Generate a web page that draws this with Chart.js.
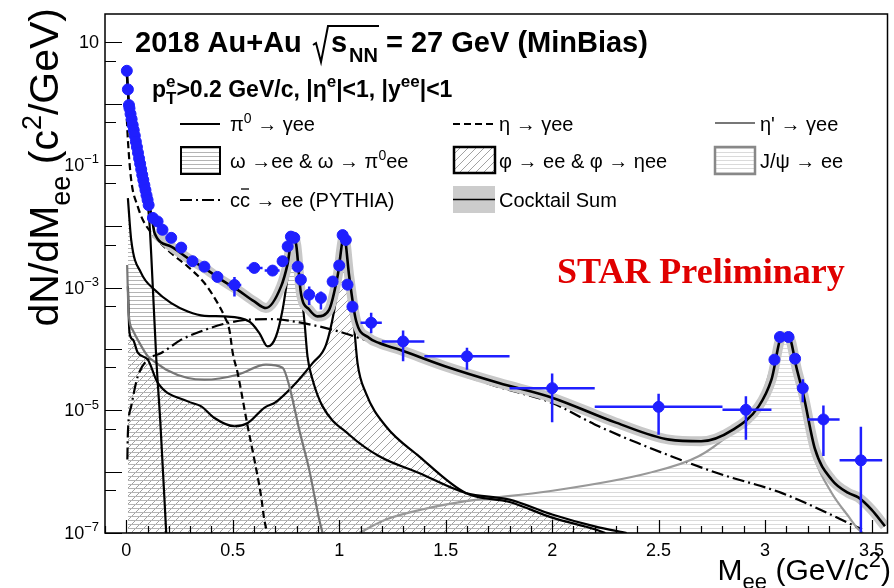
<!DOCTYPE html>
<html>
<head>
<meta charset="utf-8">
<script src="https://cdn.jsdelivr.net/npm/chart.js@4.4.1/dist/chart.umd.min.js"></script>
<style>
  html, body { margin: 0; padding: 0; background: #fff; }
</style>
</head>
<body>
<canvas id="c" width="894" height="588"></canvas>
<script>
// STAR data points (M_ee in GeV/c2, dN/dM_ee)
const dataMass = [0.0025, 0.0075, 0.0125, 0.015, 0.02, 0.025, 0.03, 0.035, 0.04, 0.045, 0.05, 0.055,
  0.06, 0.065, 0.07, 0.075, 0.08, 0.085, 0.09, 0.095, 0.10, 0.105,
  0.125, 0.147, 0.170, 0.211, 0.258, 0.311, 0.367, 0.428, 0.508, 0.601, 0.687, 0.734, 0.758,
  0.773, 0.789, 0.805, 0.82, 0.859, 0.914, 0.969, 1.0, 1.016, 1.031, 1.039, 1.062, 1.15, 1.30,
  1.60, 2.0, 2.5, 2.91, 3.044, 3.07, 3.11, 3.141, 3.177, 3.274, 3.45];
const dataYield = [3.44, 1.71, 0.95, 0.84, 0.68, 0.56, 0.45, 0.37, 0.30, 0.24, 0.196, 0.158,
  0.128, 0.105, 0.085, 0.069, 0.057, 0.047, 0.039, 0.032, 0.027, 0.0222,
  0.0137, 0.0120, 0.0088, 0.0065, 0.0045, 0.0027, 0.0022, 0.0015, 0.00111, 0.0021, 0.0019, 0.0027, 0.0047,
  0.0068, 0.0065, 0.0022, 0.00135, 0.00077, 0.00068, 0.00126, 0.0023, 0.0072, 0.0060, 0.00112, 0.00049, 2.68e-4, 1.33e-4,
  7.6e-5, 2.3e-5, 1.14e-5, 1.02e-5, 6.7e-5, 1.57e-4, 1.57e-4, 6.95e-5, 2.3e-5, 7.1e-6, 1.53e-6];

// error bars: mass of the data point, mass range, yield range (null = none drawn)
const barAtMass    = [0.428, 0.508, 0.601, 0.687, 0.859, 0.914, 1.15, 1.30, 1.60, 2.0, 2.5, 2.91, 3.177, 3.274, 3.45];
const barMassLo    = [0.41, 0.475, 0.565, 0.65, 0.84, 0.895, 1.1, 1.2, 1.4, 1.8, 2.2, 2.8, null, 3.2, 3.35];
const barMassHi    = [0.445, 0.54, 0.64, 0.72, 0.88, 0.935, 1.2, 1.4, 1.8, 2.2, 2.8, 3.03, null, 3.35, 3.55];
const barYieldLo   = [null, 7.2e-4, null, null, 5.2e-4, 4.4e-4, 1.8e-4, 6.3e-5, 4.6e-5, 6.4e-6, 4.0e-6, 3.3e-6, 1.35e-5, 1.8e-6, 1e-9];
const barYieldHi   = [null, 1.5e-3, null, null, 1.05e-3, 8.7e-4, 3.9e-4, 2.0e-4, 1.05e-4, 4.0e-5, 1.87e-5, 1.7e-5, 3.2e-5, 1.2e-5, 5.4e-6];

// cocktail components
const pi0Mass = [0.0025, 0.0075, 0.0125, 0.025, 0.05, 0.075, 0.1, 0.109, 0.125, 0.141, 0.16, 0.1875];
const pi0Yield = [3.16, 1.58, 0.89, 0.52, 0.18, 0.063, 0.0234, 0.0112, 9.5e-4, 6.8e-5, 6.3e-6, 1e-7];

const etaMass = [0.0025, 0.0075, 0.023, 0.054, 0.078, 0.133, 0.211, 0.289, 0.367, 0.429, 0.461, 0.484,
  0.5, 0.523, 0.57, 0.601, 0.633, 0.648, 0.662];
const etaYield = [0.56, 0.256, 0.0571, 0.021, 0.0127, 0.0068, 0.00365, 0.00221, 0.00119, 5.6e-4, 3.4e-4, 2.06e-4,
  8.6e-5, 4.05e-5, 5.5e-6, 1.6e-6, 4e-7, 1.66e-7, 1e-7];

const etapMass = [0.004, 0.011, 0.03, 0.054, 0.101, 0.133, 0.1875, 0.289, 0.367, 0.523, 0.656, 0.734,
  0.766, 0.812, 0.859, 0.906, 0.922];
const etapYield = [2.34e-3, 3.85e-4, 2.04e-4, 1.41e-4, 7.6e-5, 6.2e-5, 4.6e-5, 3.37e-5, 3.16e-5, 3.81e-5, 5.55e-5, 4.95e-5,
  2.46e-5, 4.85e-6, 1.08e-6, 1.66e-7, 1e-7];

const omegaMass = [0.0075, 0.023, 0.07, 0.133, 0.211, 0.289, 0.367, 0.461, 0.578, 0.625, 0.664, 0.703,
  0.734, 0.758, 0.781, 0.797, 0.812, 0.836, 0.851, 0.875, 0.922, 1.047, 1.188, 1.375, 1.594, 1.8, 2.0, 2.2, 2.35];
const omegaYield = [0.0288, 0.00603, 0.00173, 9.25e-4, 5.6e-4, 4.1e-4, 3.48e-4, 3.4e-4, 2.81e-4, 1.82e-4, 1.1e-4, 1.6e-4,
  4.37e-4, 0.00152, 0.0060, 0.00532, 0.00152, 3.0e-4, 7.6e-5, 3.16e-5, 1.16e-5, 4.0e-6, 1.78e-6, 9.5e-7, 4.5e-7, 3.5e-7, 2.0e-7, 1.28e-7, 1e-7];

const phiMass = [0.0075, 0.015, 0.031, 0.054, 0.101, 0.148, 0.289, 0.352, 0.414, 0.508, 0.570, 0.648, 0.70,
  0.781, 0.875, 0.938, 0.977, 1.0, 1.023, 1.039, 1.055, 1.070, 1.086, 1.125, 1.219, 1.375, 1.594, 1.8, 2.0, 2.2, 2.25];
const phiYield = [1.05e-3, 1.84e-4, 1.42e-4, 8.7e-5, 6.7e-5, 2.8e-5, 1.4e-5, 1.16e-5, 7.5e-6, 5.5e-6, 6.2e-6, 1.1e-5, 1.35e-5,
  2.45e-5, 5.9e-5, 1.17e-4, 4.37e-4, 0.00152, 0.0063, 0.00469, 8.2e-4, 2.33e-4, 5.9e-5, 1.92e-5, 5.5e-6, 1.78e-6, 4.5e-7, 3.2e-7, 1.78e-7, 1.15e-7, 1e-7];

const jpsiMass = [1.094, 1.219, 1.389, 1.594, 1.985, 2.453, 2.688, 2.843, 2.969, 3.016, 3.055, 3.078, 3.10,
  3.125, 3.172, 3.203, 3.235, 3.313, 3.391, 3.438, 3.46];
const jpsiYield = [1e-7, 1.66e-7, 2.42e-7, 3.31e-7, 4.79e-7, 9.5e-7, 1.78e-6, 4.34e-6, 1.16e-5, 3.58e-5, 9.8e-5, 1.5e-4, 1.5e-4,
  1.1e-4, 1.49e-5, 4.27e-6, 1.57e-6, 4.5e-7, 1.88e-7, 1.15e-7, 1e-7];

const ccMass = [0.005, 0.0075, 0.023, 0.054, 0.101, 0.164, 0.258, 0.289, 0.461, 0.570, 0.68, 0.812, 0.969,
  1.094, 1.3, 1.5, 1.75, 2.0, 2.2, 2.4, 2.775, 3.08, 3.455];
const ccYield = [1.58e-6, 4.29e-6, 1.16e-5, 3.58e-5, 6.7e-5, 8.6e-5, 1.42e-4, 1.6e-4, 2.58e-4, 3.0e-4, 3.08e-4, 2.71e-4, 2.06e-4,
  1.51e-4, 8.7e-5, 4.68e-5, 2.4e-5, 1.32e-5, 5.9e-6, 2.95e-6, 9.5e-7, 4.47e-7, 1.15e-7];

const sumMass = [0.0025, 0.0075, 0.0125, 0.025, 0.05, 0.075, 0.1, 0.12, 0.133, 0.211, 0.289, 0.367, 0.445,
  0.523, 0.601, 0.656, 0.727, 0.757, 0.781, 0.798, 0.82, 0.859, 0.898, 0.953, 0.992, 1.023, 1.047, 1.078,
  1.141, 1.188, 1.281, 1.5, 1.75, 2.0, 2.3, 2.55, 2.7, 2.85, 2.97, 3.03, 3.08, 3.11, 3.15, 3.18, 3.235,
  3.313, 3.391, 3.438, 3.5, 3.563];
const sumYield = [3.39, 1.70, 0.955, 0.55, 0.204, 0.0741, 0.0282, 0.0141, 0.00774, 0.00468, 0.00303, 0.00209, 0.00135,
  9.2e-4, 5.96e-4, 4.66e-4, 0.00105, 0.0024, 0.0069, 0.0050, 8.2e-4, 4.4e-4, 3.4e-4, 4.4e-4, 0.00152, 0.0069, 0.00152, 3.0e-4,
  1.51e-4, 1.25e-4, 9.8e-5, 5.2e-5, 2.8e-5, 1.61e-5, 6.3e-6, 3.33e-6, 3.13e-6, 4.85e-6, 1.16e-5, 3.16e-5, 1.6e-4, 1.6e-4, 4.57e-5, 1.8e-5, 2.3e-6,
  7.4e-7, 4.5e-7, 3.8e-7, 2.4e-7, 1.29e-7];

// axis labels
const xTickValues = [0, 0.5, 1, 1.5, 2, 2.5, 3, 3.5];
const xTickLabels = ['0', '0.5', '1', '1.5', '2', '2.5', '3', '3.5'];
const yLabelExps = [1, -1, -3, -5, -7];

const SANS = '"Liberation Sans", Arial, Helvetica, sans-serif';
const SERIF = '"Liberation Serif", "Times New Roman", serif';
const BLUE = '#1f1fff';

const canvas = document.getElementById('c');
const mainCtx = canvas.getContext('2d');

function makeHatch(type, color) {
  const c = document.createElement('canvas');
  const g = c.getContext('2d');
  if (type === 'h') {
    c.width = 8; c.height = 4;
    g.fillStyle = color;
    g.fillRect(0, 0, 8, 1);
  } else {
    c.width = 8; c.height = 8;
    g.strokeStyle = color;
    g.lineWidth = 1;
    g.beginPath();
    g.moveTo(-1, 9); g.lineTo(9, -1);
    g.moveTo(-1, 1); g.lineTo(1, -1);
    g.moveTo(7, 9); g.lineTo(9, 7);
    g.stroke();
  }
  return mainCtx.createPattern(c, 'repeat');
}

const hatchOmega = makeHatch('h', '#b4b4b4');
const hatchPhi = makeHatch('d', '#a2a2a2');
const hatchJpsi = makeHatch('h', '#dadada');

const pts = (m, v) => m.map((x, i) => ({ x: x, y: v[i] }));

// text with sub/superscripts: mode 0 normal, 1 sup, -1 sub, 2 stacked [sub, sup]
function rich(ctx, x, y, parts, size, weight, draw = true, ratio = 0.72) {
  let cx = x;
  const small = Math.round(size * ratio);
  for (const [t, m] of parts) {
    if (m === 2) {
      ctx.font = weight + ' ' + small + 'px ' + SANS;
      if (draw) {
        ctx.fillText(t[0], cx, y + size * 0.3);
        ctx.fillText(t[1], cx, y - size * 0.42);
      }
      cx += Math.max(ctx.measureText(t[0]).width, ctx.measureText(t[1]).width);
      continue;
    }
    const s = m ? small : size;
    ctx.font = weight + ' ' + s + 'px ' + SANS;
    const dy = m === 1 ? -size * 0.42 : m === -1 ? size * 0.3 : 0;
    if (draw) ctx.fillText(t, cx, y + dy);
    cx += ctx.measureText(t).width;
  }
  return cx - x;
}

const errorBars = {
  id: 'errorBars',
  beforeDatasetDraw(chart, args) {
    if (args.index !== 0) return;
    const { ctx, chartArea: a, scales: { x, y } } = chart;
    ctx.save();
    ctx.beginPath();
    ctx.rect(a.left, a.top, a.width, a.height);
    ctx.clip();
    ctx.strokeStyle = BLUE;
    ctx.lineWidth = 2.5;
    barAtMass.forEach((m, i) => {
      const k = dataMass.indexOf(m);
      const px = x.getPixelForValue(m);
      const py = y.getPixelForValue(dataYield[k]);
      ctx.beginPath();
      if (barMassLo[i] !== null) {
        ctx.moveTo(x.getPixelForValue(barMassLo[i]), py);
        ctx.lineTo(x.getPixelForValue(barMassHi[i]), py);
      }
      if (barYieldLo[i] !== null) {
        ctx.moveTo(px, y.getPixelForValue(barYieldLo[i]));
        ctx.lineTo(px, y.getPixelForValue(barYieldHi[i]));
      }
      ctx.stroke();
    });
    ctx.restore();
  }
};

function legendLine(ctx, x1, x2, y, color, width, dash) {
  ctx.save();
  ctx.strokeStyle = color;
  ctx.lineWidth = width;
  ctx.setLineDash(dash);
  ctx.beginPath();
  ctx.moveTo(x1, y);
  ctx.lineTo(x2, y);
  ctx.stroke();
  ctx.restore();
}

function legendBox(ctx, x, y, w, h, fill, stroke, width) {
  ctx.save();
  ctx.fillStyle = fill;
  ctx.fillRect(x, y, w, h);
  ctx.strokeStyle = stroke;
  ctx.lineWidth = width;
  ctx.strokeRect(x, y, w, h);
  ctx.restore();
}

const decor = {
  id: 'decor',
  afterDraw(chart) {
    const { ctx, chartArea: a, scales: { x, y } } = chart;
    ctx.save();
    ctx.fillStyle = '#000';
    ctx.strokeStyle = '#000';

    // frame and ticks
    ctx.lineWidth = 1.5;
    ctx.strokeRect(a.left, a.top, a.right - a.left, a.bottom - a.top);
    ctx.lineWidth = 1.2;
    ctx.beginPath();
    for (let i = -1; i <= 35; i++) {
      const v = i / 10;
      const px = Math.round(x.getPixelForValue(v)) + 0.5;
      const len = i % 5 === 0 ? 13 : 7;
      ctx.moveTo(px, a.bottom);
      ctx.lineTo(px, a.bottom - len);
    }
    for (let e = -7; e <= 1; e++) {
      const py = Math.round(y.getPixelForValue(Math.pow(10, e))) + 0.5;
      ctx.moveTo(a.left, py);
      ctx.lineTo(a.left + 17, py);
      if (e < 1) {
        const p5 = Math.round(y.getPixelForValue(5 * Math.pow(10, e))) + 0.5;
        ctx.moveTo(a.left, p5);
        ctx.lineTo(a.left + 11, p5);
      }
    }
    ctx.stroke();

    // tick labels
    ctx.textBaseline = 'alphabetic';
    ctx.font = '18px ' + SANS;
    ctx.textAlign = 'center';
    xTickValues.forEach((v, i) => ctx.fillText(xTickLabels[i], x.getPixelForValue(v), a.bottom + 23));
    ctx.textAlign = 'left';
    yLabelExps.forEach(e => {
      const py = y.getPixelForValue(Math.pow(10, e)) + 6;
      const parts = e === 1 ? [['10', 0]] : [['10', 0], ['\u2212' + (-e), 1]];
      const w = rich(ctx, 0, 0, parts, 18, 'normal', false);
      rich(ctx, 99 - w, py, parts, 18, 'normal');
    });

    // axis titles
    const yt = [['dN/dM', 0], ['ee', -1], [' (c', 0], ['2', 1], ['/GeV)', 0]];
    const ytW = rich(ctx, 0, 0, yt, 41, 'normal', false, 0.66);
    ctx.save();
    ctx.translate(58, 8 + ytW);
    ctx.rotate(-Math.PI / 2);
    rich(ctx, 0, 0, yt, 41, 'normal', true, 0.66);
    ctx.restore();
    const xt = [['M', 0], ['ee', -1], [' (GeV/c', 0], ['2', 1], [')', 0]];
    const xtW = rich(ctx, 0, 0, xt, 30, 'normal', false);
    rich(ctx, 891 - xtW, 580, xt, 30, 'normal');

    // headline
    rich(ctx, 135, 52, [['2018 Au+Au', 0]], 29, 'bold');
    ctx.lineWidth = 2;
    ctx.beginPath();
    ctx.moveTo(313, 45); ctx.lineTo(316, 43); ctx.lineTo(321, 62); ctx.lineTo(328, 26); ctx.lineTo(379, 26);
    ctx.stroke();
    rich(ctx, 331, 52, [['s', 0]], 29, 'bold');
    ctx.font = 'bold 20px ' + SANS;
    ctx.fillText('NN', 349, 62);
    rich(ctx, 386, 52, [['= 27 GeV (MinBias)', 0]], 29, 'bold');

    rich(ctx, 152, 97, [['p', 0], [['T', 'e'], 2], ['>0.2 GeV/c, |\u03b7', 0], ['e', 1], ['|<1, |y', 0], ['ee', 1], ['|<1', 0]], 23, 'bold', true, 0.76);

    // legend
    legendLine(ctx, 180, 220, 124, '#000', 2.2, []);
    legendLine(ctx, 453, 495, 124, '#000', 2.2, [7, 4]);
    legendLine(ctx, 715, 755, 123, '#777', 2.2, []);
    legendBox(ctx, 181, 147, 39, 27, hatchOmega, '#000', 2);
    legendBox(ctx, 454, 147, 41, 26, hatchPhi, '#000', 2.5);
    legendBox(ctx, 715, 147, 40, 27, hatchJpsi, '#888', 2.5);
    legendLine(ctx, 180, 220, 200, '#000', 2.2, [12, 4, 2, 4]);
    legendBox(ctx, 453, 186, 42, 27, '#cccccc', '#cccccc', 0.01);
    legendLine(ctx, 453, 495, 199.5, '#000', 1.6, []);

    ctx.fillStyle = '#000';
    rich(ctx, 230, 131, [['\u03c0', 0], ['0', 1], [' \u2192 \u03b3ee', 0]], 20, 'normal');
    rich(ctx, 499, 131, [['\u03b7 \u2192 \u03b3ee', 0]], 20, 'normal');
    rich(ctx, 760, 131, [["\u03b7' \u2192 \u03b3ee", 0]], 20, 'normal');
    rich(ctx, 230, 168, [['\u03c9 \u2192ee & \u03c9 \u2192 \u03c0', 0], ['0', 1], ['ee', 0]], 20, 'normal');
    rich(ctx, 499, 168, [['\u03c6 \u2192 ee & \u03c6 \u2192 \u03b7ee', 0]], 20, 'normal');
    rich(ctx, 760, 168, [['J/\u03c8 \u2192 ee', 0]], 20, 'normal');
    const lx = 230 + rich(ctx, 230, 207, [['c', 0]], 20, 'normal');
    const cw = rich(ctx, lx, 207, [['c', 0]], 20, 'normal');
    ctx.lineWidth = 1.3;
    ctx.beginPath();
    ctx.moveTo(lx + 1, 189); ctx.lineTo(lx + cw - 1, 189);
    ctx.stroke();
    rich(ctx, lx + cw, 207, [[' \u2192 ee (PYTHIA)', 0]], 20, 'normal');
    rich(ctx, 499, 207, [['Cocktail Sum', 0]], 20, 'normal');

    ctx.fillStyle = '#e00000';
    ctx.font = 'bold 36px ' + SERIF;
    ctx.fillText('STAR Preliminary', 557, 283);
    ctx.restore();
  }
};

const sumBand = pts(sumMass, sumYield).filter(p => p.x > 0.12);

const line = (data, color, width, extra) => Object.assign({
  data: data, showLine: true, borderColor: color, borderWidth: width,
  pointRadius: 0, cubicInterpolationMode: 'monotone', fill: false, clip: 0, order: 3
}, extra || {});

new Chart(canvas, {
  type: 'scatter',
  data: {
    datasets: [
      { data: pts(dataMass, dataYield), showLine: false, pointRadius: 5.5, pointBackgroundColor: BLUE,
        pointBorderColor: BLUE, pointBorderWidth: 1, order: 0 },
      line(pts(sumMass, sumYield), '#000', 2.6, { order: 1 }),
      line(sumBand, '#c8c8c8', 10, { order: 2 }),
      line(pts(pi0Mass, pi0Yield), '#000', 2.2),
      line(pts(etaMass, etaYield), '#000', 2.2, { borderDash: [7, 4] }),
      line(pts(etapMass, etapYield), '#777', 2.2),
      line(pts(omegaMass, omegaYield), '#000', 2.2, { fill: 'start', backgroundColor: hatchOmega }),
      line(pts(phiMass, phiYield), '#000', 2.2, { fill: 'start', backgroundColor: hatchPhi }),
      line(pts(jpsiMass, jpsiYield), '#999', 2.2, { fill: 'start', backgroundColor: hatchJpsi }),
      line(pts(ccMass, ccYield), '#000', 2.2, { borderDash: [12, 4, 2, 4] })
    ]
  },
  options: {
    responsive: false,
    animation: false,
    devicePixelRatio: 1,
    layout: { padding: { left: 105, top: 14, right: 5, bottom: 55 } },
    scales: {
      x: { type: 'linear', min: -0.1, max: 3.575, display: false },
      y: { type: 'logarithmic', min: 1e-7, max: 29, display: false }
    },
    plugins: {
      legend: { display: false },
      tooltip: { enabled: false },
      filler: { drawTime: 'beforeDatasetsDraw' }
    }
  },
  plugins: [errorBars, decor]
});
</script>
</body>
</html>
